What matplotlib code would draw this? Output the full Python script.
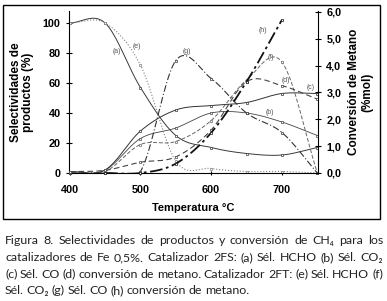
import numpy as np
import matplotlib.pyplot as plt
from matplotlib.patches import Rectangle

# temperaturas de medida (°C)
temp = [400, 450, 500, 550, 600, 650, 700, 750]
temp_h = [450, 500, 550, 600, 650, 700]

# catalizador 2FS (eje izquierdo: selectividades %, eje derecho: conversión %mol)
sel_hcho_2fs = [100, 100, 57, 25, 17, 13, 12, 17]     # (a)
sel_co2_2fs = [0, 2, 23, 30, 40, 40, 34, 25]          # (b)
sel_co_2fs = [1, 2, 28, 42, 45, 47, 53, 53]           # (c)
conv_2fs = [0.05, 0.1, 0.4, 0.6, 1.6, 3.4, 3.25, 2.75]  # (d)

# catalizador 2FT
sel_hcho_2ft = [100, 100, 72, 8, 3, 1, 1, 0]          # (e)
sel_co2_2ft = [0, 1, 19, 21, 35, 62, 74, 0]           # (f)
sel_co_2ft = [0, 0, 1, 75, 63, 40, 27, 0]             # (g)
conv_2ft = [0, 0, 0.35, 1.5, 3.4, 5.7]                # (h)

left_ticks = [0, 20, 40, 60, 80, 100]
right_ticks = [0, 1, 2, 3, 4, 5, 6]
right_labels = ['0,0', '1,0', '2,0', '3,0', '4,0', '5,0', '6,0']
x_ticks = [400, 500, 600, 700]

caption = [
    "Figura 8.  Selectividades de productos y conversión de CH\u2084 para los",
    "catalizadores de Fe 0,5%. Catalizador 2FS: (a) Sél. HCHO (b) Sél. CO\u2082",
    "(c) Sél. CO (d) conversión de metano. Catalizador 2FT: (e) Sél. HCHO (f)",
    "Sél. CO\u2082 (g) Sél. CO (h) conversión de metano.",
]


def smooth(x, y, n=20):
    # curva suavizada tipo Excel (Catmull-Rom) que pasa por los puntos
    x = np.asarray(x, float)
    y = np.asarray(y, float)
    px = np.concatenate([[2 * x[0] - x[1]], x, [2 * x[-1] - x[-2]]])
    py = np.concatenate([[2 * y[0] - y[1]], y, [2 * y[-1] - y[-2]]])
    t = np.linspace(0, 1, n, endpoint=False)[:, None]
    xs, ys = [], []
    for i in range(1, len(px) - 2):
        for p, out in ((px, xs), (py, ys)):
            p0, p1, p2, p3 = p[i - 1], p[i], p[i + 1], p[i + 2]
            v = 0.5 * (2 * p1 + (-p0 + p2) * t + (2 * p0 - 5 * p1 + 4 * p2 - p3) * t ** 2
                       + (-p0 + 3 * p1 - 3 * p2 + p3) * t ** 3)
            out.extend(v.ravel())
    xs.append(x[-1])
    ys.append(y[-1])
    return np.array(xs), np.array(ys)


def curve(ax, x, y, ls, color, lw, marker, ms=2):
    sx, sy = smooth(x, y)
    ax.plot(sx, sy, ls=ls, color=color, lw=lw)
    ax.plot(x, y, ls='none', marker=marker, ms=ms, mew=0.5, mec=color,
            mfc='white', clip_on=False)


plt.rcParams['font.family'] = ['Liberation Sans', 'DejaVu Sans']

fig = plt.figure(figsize=(3.87, 3.01), dpi=100)
W, H = 387, 301
ax = fig.add_axes([69 / W, 1 - 173 / H, (318 - 69) / W, (173 - 11) / H])
ax2 = ax.twinx()

curve(ax, temp, sel_hcho_2fs, '-', '#3a3a3a', 0.7, 's')
curve(ax, temp, sel_co2_2fs, '-', '#444444', 0.6, 's')
curve(ax, temp, sel_co_2fs, '-', '#333333', 0.7, 's')
curve(ax, temp, sel_hcho_2ft, ':', '#808080', 0.8, 's')
curve(ax, temp, sel_co2_2ft, (0, (4, 2)), '#666666', 0.7, 's')
curve(ax, temp, sel_co_2ft, (0, (6, 2, 1, 2)), '#333333', 0.8, 's')
curve(ax2, temp, conv_2fs, (0, (5, 3)), '#444444', 0.8, 's')
curve(ax2, temp_h, conv_2ft, (0, (7, 2, 1.5, 2)), '#111111', 1.3, 's')

ax.set_xlim(399, 751)
ax.set_ylim(0, 108)
ax2.set_ylim(0, 6.03)

ax.set_xticks(x_ticks)
ax.set_yticks(left_ticks)
ax2.set_yticks(right_ticks)
ax2.set_yticklabels(right_labels)

for a in (ax, ax2):
    a.spines['top'].set_visible(False)
    a.tick_params(direction='inout', length=5, width=0.8, labelsize=7.8)
ax.spines['right'].set_visible(False)
ax2.spines['left'].set_visible(False)
ax2.spines['bottom'].set_visible(False)
ax.tick_params(axis='x', length=3, pad=7)
for lbl in ax.get_xticklabels() + ax.get_yticklabels() + ax2.get_yticklabels():
    lbl.set_fontweight('bold')

ax.set_xlabel('Temperatura °C', fontsize=8, fontweight='bold', labelpad=6)
ax.set_ylabel('Selectividades de\nproductos (%)', fontsize=8.5, fontweight='bold',
              labelpad=6, linespacing=1.1)
ax2.set_ylabel('Conversión de Metano\n(%mol)', fontsize=8.5, fontweight='bold',
               labelpad=5, linespacing=1.1)

# etiquetas de las curvas
tags = {'(a)': (466, 81), '(e)': (495, 84), '(g)': (565, 81), '(h)': (673, 95),
        '(f)': (684, 77), '(d)': (705, 62), '(c)': (741, 57), '(b)': (683, 40)}
for k, (tx, ty) in tags.items():
    ax.text(tx, ty, k, fontsize=5, color='#555555', ha='center', va='center')

# marco exterior
fig.patches.append(Rectangle((3 / W, 1 - 219 / H), 377 / W, 214 / H,
                             transform=fig.transFigure, fill=False, lw=1, color='black'))

# pie de figura justificado
renderer = fig.canvas.get_renderer()
x0, x1 = 5, 383
cap_font = dict(fontsize=8.9, family=['Lato', 'DejaVu Sans'], color='#222222')
for i, line in enumerate(caption):
    y = 1 - (241 + i * 16.5) / H
    words = [w for w in line.split(' ') if w]
    objs = [fig.text(0, y, w, va='center', ha='left', **cap_font) for w in words]
    widths = [o.get_window_extent(renderer).width for o in objs]
    space = objs[0].get_window_extent(renderer).height * 0.25
    if i < len(caption) - 1:
        gap = max((x1 - x0 - sum(widths)) / (len(objs) - 1), 1.5)
    else:
        gap = space
    pos = x0
    for o, w in zip(objs, widths):
        o.set_x(pos / W)
        pos += w + gap

fig.savefig('out.png', dpi=100)
